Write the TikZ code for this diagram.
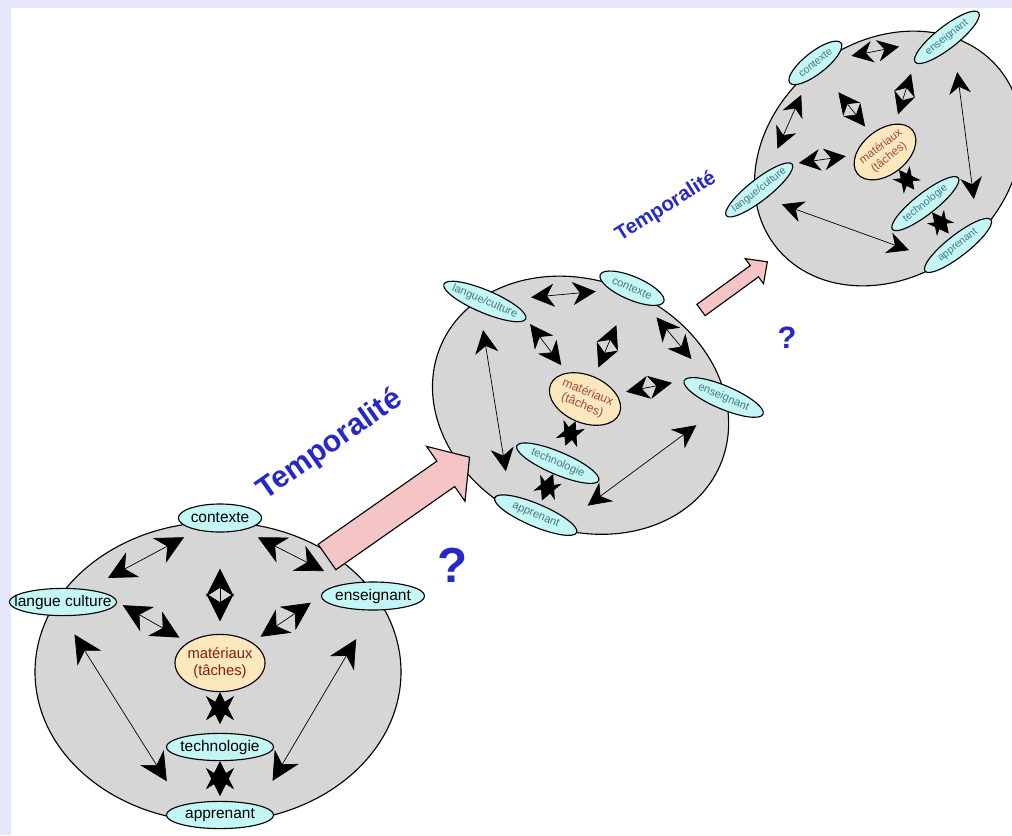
\documentclass[tikz,border=0pt]{standalone}
\usepackage{fontspec}
\setmainfont{Liberation Sans}
\usetikzlibrary{arrows.meta}
\usetikzlibrary{shapes.geometric}
\definecolor{lavande}{RGB}{230,230,250}
\definecolor{grisfond}{RGB}{214,214,214}
\definecolor{cyanclair}{RGB}{196,246,246}
\definecolor{orangeclair}{RGB}{253,232,190}
\definecolor{rosefleche}{RGB}{245,196,196}
\definecolor{bleutexte}{RGB}{40,40,200}
\definecolor{brunmat}{RGB}{130,30,20}
\definecolor{tealtexte}{RGB}{70,120,125}
\tikzset{
	poste/.style={ellipse, draw, line width=0.8pt, fill=cyanclair, inner xsep=-0.5cm, inner ysep=0pt, font=\fontsize{11}{12}\selectfont},
	centre/.style={ellipse, draw, line width=0.8pt, fill=orangeclair, inner xsep=-0.3cm, inner ysep=0pt, align=center, text=brunmat, font=\fontsize{10.5}{12}\selectfont, minimum width=2.25cm, minimum height=1.43cm},
	lien/.style={<->, line width=0.5pt},
	grappe/.style={draw, line width=0.8pt, fill=grisfond},
	titre/.style={text=bleutexte, font=\bfseries\fontsize{21.5}{24}\selectfont},
	doute/.style={text=bleutexte, font=\bfseries\fontsize{35}{40}\selectfont},
	fleche rose/.style={draw, line width=0.8pt, fill=rosefleche}
}

\begin{document}
\begin{tikzpicture}[x=0.025cm, y=-0.025cm]
	\useasboundingbox (0,0) rectangle (1012,835);
	\fill[lavande] (0,0) rectangle (1012,835);
	\fill[white] (11,8) rectangle (1012,835);

	% premier moment
	\begin{scope}[shift={(220,663)}, >={Stealth[length=0.7cm, width=0.7cm, inset=0.22cm]}]
		\draw[grappe] (-2,9) ellipse [x radius=183, y radius=150];
		\node[centre] (matA) at (0,0) {matériaux\\(tâches)};
		\node[poste, minimum width=2.08cm, minimum height=0.7cm] (ctxA) at (0,-145) {contexte};
		\node[poste, minimum width=2.68cm, minimum height=0.68cm] (lngA) at (-157,-61) {langue culture};
		\node[poste, minimum width=2.58cm, minimum height=0.7cm] (ensA) at (153,-67) {enseignant};
		\node[poste, minimum width=2.68cm, minimum height=0.68cm] (tecA) at (0,84) {technologie};
		\node[poste, minimum width=2.68cm, minimum height=0.68cm] (appA) at (0,152) {apprenant};
		\draw[lien, shorten <=0.37cm, shorten >=0.6cm] (ctxA) -- (lngA);
		\draw[lien, shorten <=0.4cm, shorten >=0.67cm] (ctxA) -- (ensA);
		\draw[lien, shorten <=0.16cm, shorten >=0.24cm] (lngA.east) -- (matA.north west);
		\draw[lien, shorten <=0.3cm, shorten >=0.25cm] (ensA.west) -- (matA.north east);
		\draw[lien, shorten <=0.9cm, shorten >=0.31cm] (ctxA) -- (matA);
		\draw[lien, shorten >=0.22cm] (matA) -- (tecA);
		\draw[lien, shorten >=0.12cm] (tecA) -- (appA);
		\draw[lien, shorten <=0.54cm, shorten >=0.7cm] (lngA.south) -- (appA.north west);
		\draw[lien, shorten <=0.83cm, shorten >=0.7cm] (ensA.south) -- (appA.north east);
	\end{scope}

	% deuxieme moment
	\begin{scope}[shift={(585,399)}, rotate=-23, scale=0.83, transform shape, every node/.append style={text=tealtexte}, poste/.append style={font=\fontsize{9.5}{10}\selectfont}, >={Stealth[length=0.58cm, width=0.58cm, inset=0.18cm]}]
		\draw[grappe] (-2,9) ellipse [x radius=183, y radius=150];
		\node[centre, text=brunmat!80] (matB) at (0,0) {matériaux\\(tâches)};
		\node[poste, minimum width=2.08cm, minimum height=0.7cm] (ctxB) at (0,-145) {contexte};
		\node[poste, minimum width=2.68cm, minimum height=0.68cm] (lngB) at (-157,-61) {langue/culture};
		\node[poste, minimum width=2.58cm, minimum height=0.7cm] (ensB) at (153,-67) {enseignant};
		\node[poste, minimum width=2.68cm, minimum height=0.68cm] (tecB) at (0,84) {technologie};
		\node[poste, minimum width=2.68cm, minimum height=0.68cm] (appB) at (0,152) {apprenant};
		\draw[lien, shorten <=0.37cm, shorten >=0.6cm] (ctxB) -- (lngB);
		\draw[lien, shorten <=0.4cm, shorten >=0.67cm] (ctxB) -- (ensB);
		\draw[lien, shorten <=0.16cm, shorten >=0.24cm] (lngB.east) -- (matB.north west);
		\draw[lien, shorten <=0.3cm, shorten >=0.25cm] (ensB.west) -- (matB.north east);
		\draw[lien, shorten <=0.7cm, shorten >=0.25cm] (ctxB) -- (matB);
		\draw[lien, shorten >=0.18cm] (matB) -- (tecB);
		\draw[lien, shorten >=0.1cm] (tecB) -- (appB);
		\draw[lien, shorten <=0.45cm, shorten >=0.6cm] (lngB.south) -- (appB.north west);
		\draw[lien, shorten <=0.7cm, shorten >=0.6cm] (ensB.south) -- (appB.north east);
	\end{scope}

	% troisieme moment
	\begin{scope}[shift={(885,152)}, rotate=38, scale=0.78, transform shape, every node/.append style={text=tealtexte}, poste/.append style={font=\fontsize{9.5}{10}\selectfont}, >={Stealth[length=0.54cm, width=0.54cm, inset=0.17cm]}]
		\draw[grappe] (-2,9) ellipse [x radius=183, y radius=150];
		\node[centre, text=brunmat!80] (matC) at (0,0) {matériaux\\(tâches)};
		\node[poste, minimum width=2.08cm, minimum height=0.7cm] (ctxC) at (0,-145) {contexte};
		\node[poste, minimum width=2.68cm, minimum height=0.68cm] (lngC) at (-157,-61) {langue/culture};
		\node[poste, minimum width=2.58cm, minimum height=0.7cm] (ensC) at (153,-67) {enseignant};
		\node[poste, minimum width=2.68cm, minimum height=0.68cm] (tecC) at (0,84) {technologie};
		\node[poste, minimum width=2.68cm, minimum height=0.68cm] (appC) at (0,152) {apprenant};
		\draw[lien, shorten <=0.37cm, shorten >=0.6cm] (ctxC) -- (lngC);
		\draw[lien, shorten <=0.4cm, shorten >=0.67cm] (ctxC) -- (ensC);
		\draw[lien, shorten <=0.16cm, shorten >=0.24cm] (lngC.east) -- (matC.north west);
		\draw[lien, shorten <=0.3cm, shorten >=0.25cm] (ensC.west) -- (matC.north east);
		\draw[lien, shorten <=0.65cm, shorten >=0.24cm] (ctxC) -- (matC);
		\draw[lien, shorten >=0.17cm] (matC) -- (tecC);
		\draw[lien, shorten >=0.1cm] (tecC) -- (appC);
		\draw[lien, shorten <=0.42cm, shorten >=0.55cm] (lngC.south) -- (appC.north west);
		\draw[lien, shorten <=0.65cm, shorten >=0.55cm] (ensC.south) -- (appC.north east);
	\end{scope}

	% fleches du temps
	\begin{scope}[shift={(327,557)}, rotate=35]
		\draw[fleche rose] (0,-15.5) -- (145,-15.5) -- (145,-33.5) -- (174,0) -- (145,33.5) -- (145,15.5) -- (0,15.5) -- cycle;
	\end{scope}
	\begin{scope}[shift={(701,310)}, rotate=36]
		\draw[fleche rose] (0,-7) -- (66,-7) -- (66,-15.5) -- (82,0) -- (66,15.5) -- (66,7) -- (0,7) -- cycle;
	\end{scope}

	\node[titre, rotate=35] (tempsA) at (330,445) {Temporalité};
	\node[titre, font=\bfseries\fontsize{14.5}{16}\selectfont, rotate=32] (tempsB) at (666,207) {Temporalité};
	\node[doute] (douteA) at (453,565) {?};
	\node[doute, font=\bfseries\fontsize{22}{24}\selectfont] (douteB) at (787,338) {?};
\end{tikzpicture}
\end{document}
